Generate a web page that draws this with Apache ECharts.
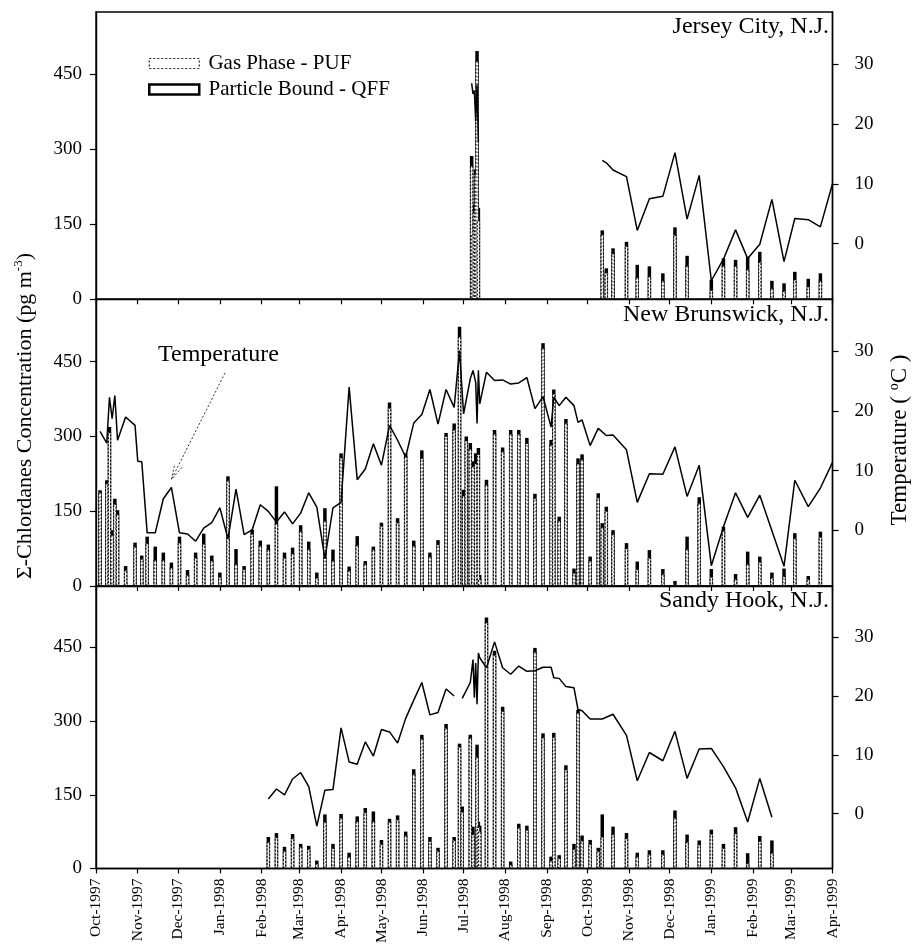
<!DOCTYPE html>
<html><head><meta charset="utf-8">
<script src="https://cdn.jsdelivr.net/npm/echarts@6/dist/echarts.min.js"></script>
<style>html,body{margin:0;padding:0;background:#fff}#c{width:915px;height:946px}</style>
</head><body><div id="c"></div><script>
// ---------- tick labels ----------
const monthTicks = ['1997-10-01','1997-11-01','1997-12-01','1998-01-01','1998-02-01','1998-03-01','1998-04-01','1998-05-01','1998-06-01','1998-07-01','1998-08-01','1998-09-01','1998-10-01','1998-11-01','1998-12-01','1999-01-01','1999-02-01','1999-03-01','1999-04-01'];
const monthNames = ['Jan','Feb','Mar','Apr','May','Jun','Jul','Aug','Sep','Oct','Nov','Dec'];
const concTicks = [0,150,300,450];
const tempTicks = [0,10,20,30];
const siteNames = ['Jersey City, N.J.','New Brunswick, N.J.','Sandy Hook, N.J.'];

// ---------- Jersey City ----------
const jcBarDates = ['1998-07-07','1998-07-08','1998-07-09','1998-07-10','1998-07-11','1998-07-12','1998-10-12','1998-10-15','1998-10-20','1998-10-30','1998-11-07','1998-11-16','1998-11-26','1998-12-05','1998-12-14','1999-01-01','1999-01-10','1999-01-19','1999-01-28','1999-02-06','1999-02-15','1999-02-24','1999-03-04','1999-03-14','1999-03-23'];
const jcGas  = [267,130,175,250,477,158,130,54,92,107,44,46,37,129,67,19,67,67,60,75,22,17,40,26,37];
const jcPart = [20,10,15,10,20,25,8,8,10,8,25,20,15,15,20,20,15,12,25,20,15,15,15,15,15];
const jcTempDates = ['1998-07-07','1998-07-08','1998-07-09','1998-07-10','1998-07-11','1998-07-12','1998-08-15','1998-10-12','1998-10-15','1998-10-20','1998-10-30','1998-11-07','1998-11-16','1998-11-26','1998-12-05','1998-12-14','1998-12-23','1999-01-01','1999-01-10','1999-01-19','1999-01-28','1999-02-06','1999-02-15','1999-02-24','1999-03-04','1999-03-14','1999-03-23','1999-04-01'];
const jcTemp = [26.8,25.0,25.6,20.5,26.6,17.0,null,13.9,13.5,12.3,11.2,2.2,7.5,7.9,15.2,4.1,11.4,-6.2,-2.6,2.3,-2.5,-0.1,7.4,-3.0,4.2,4.0,2.8,10.0];

// ---------- New Brunswick ----------
const nbBarDates = ['1997-10-04','1997-10-09','1997-10-11','1997-10-13','1997-10-15','1997-10-17','1997-10-23','1997-10-30','1997-11-04','1997-11-08','1997-11-14','1997-11-20','1997-11-26','1997-12-02','1997-12-08','1997-12-14','1997-12-20','1997-12-26','1998-01-01','1998-01-07','1998-01-13','1998-01-19','1998-01-25','1998-01-31','1998-02-06','1998-02-12','1998-02-18','1998-02-24','1998-03-02','1998-03-08','1998-03-14','1998-03-20','1998-03-26','1998-04-01','1998-04-07','1998-04-13','1998-04-19','1998-04-25','1998-05-01','1998-05-07','1998-05-13','1998-05-19','1998-05-25','1998-05-31','1998-06-06','1998-06-12','1998-06-18','1998-06-24','1998-06-28','1998-07-01','1998-07-03','1998-07-06','1998-07-08','1998-07-10','1998-07-12','1998-07-13','1998-07-18','1998-07-24','1998-07-30','1998-08-05','1998-08-11','1998-08-17','1998-08-23','1998-08-29','1998-09-04','1998-09-06','1998-09-10','1998-09-15','1998-09-21','1998-09-24','1998-09-27','1998-10-03','1998-10-09','1998-10-12','1998-10-15','1998-10-20','1998-10-30','1998-11-07','1998-11-16','1998-11-26','1998-12-05','1998-12-14','1998-12-23','1999-01-01','1999-01-10','1999-01-19','1999-01-28','1999-02-06','1999-02-15','1999-02-24','1999-03-04','1999-03-14','1999-03-23'];
const nbGas  = [188,206,309,102,165,144,32,79,55,86,52,52,37,87,22,57,85,51,19,212,44,34,105,81,73,125,57,65,110,74,17,131,51,258,31,82,44,73,121,358,128,260,81,257,59,84,301,314,500,181,292,275,240,246,265,14,203,305,270,305,305,287,177,477,283,386,131,327,27,246,254,51,178,118,151,104,76,34,57,24,5,74,166,19,111,14,44,49,17,20,96,14,99];
const nbPart = [4,6,10,10,10,8,8,8,6,13,27,15,10,12,10,10,20,10,8,8,30,6,8,10,10,75,10,12,12,15,10,25,22,8,8,18,6,6,6,10,8,6,10,15,8,8,6,12,20,12,8,12,10,20,12,8,10,8,8,8,8,10,8,10,10,8,8,8,8,10,10,8,8,8,8,8,10,15,15,10,5,25,12,15,8,10,25,10,10,15,10,6,10];
const nbTempDates = ['1997-10-04','1997-10-09','1997-10-11','1997-10-13','1997-10-15','1997-10-17','1997-10-23','1997-10-30','1997-11-01','1997-11-04','1997-11-08','1997-11-14','1997-11-20','1997-11-26','1997-12-02','1997-12-08','1997-12-14','1997-12-20','1997-12-26','1998-01-01','1998-01-07','1998-01-13','1998-01-19','1998-01-25','1998-01-31','1998-02-06','1998-02-12','1998-02-18','1998-02-24','1998-03-02','1998-03-08','1998-03-14','1998-03-20','1998-03-26','1998-04-01','1998-04-07','1998-04-13','1998-04-19','1998-04-25','1998-05-01','1998-05-07','1998-05-13','1998-05-19','1998-05-25','1998-05-31','1998-06-06','1998-06-12','1998-06-18','1998-06-24','1998-06-28','1998-07-01','1998-07-06','1998-07-08','1998-07-10','1998-07-11','1998-07-12','1998-07-13','1998-07-18','1998-07-24','1998-07-30','1998-08-05','1998-08-11','1998-08-17','1998-08-23','1998-08-29','1998-09-04','1998-09-06','1998-09-10','1998-09-15','1998-09-21','1998-09-24','1998-09-27','1998-10-03','1998-10-09','1998-10-15','1998-10-20','1998-10-30','1998-11-07','1998-11-16','1998-11-26','1998-12-05','1998-12-14','1998-12-23','1999-01-01','1999-01-10','1999-01-19','1999-01-28','1999-02-06','1999-02-24','1999-03-04','1999-03-14','1999-03-23','1999-04-01'];
const nbTemp = [16.6,14.6,22.3,18.7,22.6,15.1,19.0,17.6,11.6,11.5,-0.4,-0.4,5.3,7.2,-0.4,-0.6,-1.8,0.4,1.3,3.8,-1.4,6.9,-0.7,0.1,4.3,3.2,1.4,3.1,1.1,2.9,6.3,3.9,-4.7,3.8,4.7,24.0,8.5,10.3,14.5,10.9,17.6,15.1,12.3,18.0,19.4,23.6,17.8,23.6,20.6,30.1,19.5,25.4,26.8,24.8,17.9,26.8,21.2,26.5,25.1,25.2,24.5,24.7,25.6,20.4,22.4,17.3,22.3,20.9,22.3,20.9,18.1,18.5,14.2,17.1,15.9,16.0,13.5,4.7,9.5,9.4,14.0,5.7,10.9,-5.9,0.6,6.3,2.2,5.9,-6.0,8.4,4.0,7.1,11.4];

// ---------- Sandy Hook ----------
const shBarDates = ['1998-02-06','1998-02-12','1998-02-18','1998-02-24','1998-03-02','1998-03-08','1998-03-14','1998-03-20','1998-03-26','1998-04-01','1998-04-07','1998-04-13','1998-04-19','1998-04-25','1998-05-01','1998-05-07','1998-05-13','1998-05-19','1998-05-25','1998-05-31','1998-06-06','1998-06-12','1998-06-18','1998-06-24','1998-06-28','1998-06-30','1998-07-06','1998-07-08','1998-07-11','1998-07-12','1998-07-13','1998-07-18','1998-07-24','1998-07-30','1998-08-05','1998-08-11','1998-08-17','1998-08-23','1998-08-29','1998-09-04','1998-09-06','1998-09-10','1998-09-15','1998-09-21','1998-09-24','1998-09-27','1998-10-03','1998-10-09','1998-10-12','1998-10-20','1998-10-30','1998-11-07','1998-11-16','1998-11-26','1998-12-05','1998-12-14','1998-12-23','1999-01-01','1999-01-10','1999-01-19','1999-01-28','1999-02-06','1999-02-15'];
const shGas  = [54,64,36,62,44,40,10,95,42,103,24,96,115,96,50,95,100,67,192,264,56,36,286,58,248,116,266,70,227,85,75,501,435,321,8,83,79,441,267,16,268,21,202,40,317,57,50,36,65,70,62,24,29,29,103,54,49,71,42,72,11,56,32];
const shPart = [10,8,8,8,6,6,6,15,8,8,8,10,8,20,8,6,8,8,10,8,8,6,8,6,6,10,6,15,25,10,12,10,8,8,6,8,8,8,8,8,8,6,8,10,6,10,8,6,45,15,10,8,8,8,15,15,8,8,8,12,20,10,25];
const shTempDates = ['1998-02-06','1998-02-12','1998-02-18','1998-02-24','1998-03-02','1998-03-08','1998-03-14','1998-03-20','1998-03-26','1998-04-01','1998-04-07','1998-04-13','1998-04-19','1998-04-25','1998-05-01','1998-05-07','1998-05-13','1998-05-19','1998-05-25','1998-05-31','1998-06-06','1998-06-12','1998-06-18','1998-06-24','1998-06-27','1998-06-30','1998-07-06','1998-07-08','1998-07-09','1998-07-10','1998-07-11','1998-07-12','1998-07-13','1998-07-18','1998-07-24','1998-07-30','1998-08-05','1998-08-11','1998-08-17','1998-08-23','1998-08-29','1998-09-04','1998-09-06','1998-09-10','1998-09-15','1998-09-21','1998-09-24','1998-09-27','1998-10-03','1998-10-12','1998-10-20','1998-10-30','1998-11-07','1998-11-16','1998-11-26','1998-12-05','1998-12-14','1998-12-23','1999-01-01','1999-01-10','1999-01-19','1999-01-28','1999-02-06','1999-02-15'];
const shTemp = [2.5,4.2,3.2,5.9,7.0,4.6,-2.1,4.0,4.1,14.6,8.8,8.4,12.2,9.8,14.3,13.9,12.0,16.2,19.3,22.3,16.8,17.2,21.2,20.0,null,19.6,22.3,26.2,19.7,25.6,18.6,27.3,26.5,24.8,29.2,24.8,23.7,25.1,24.2,24.3,24.9,24.9,23.1,23.0,21.6,21.4,17.7,17.5,16.1,16.1,16.9,13.3,5.6,10.4,9.0,14.0,6.0,11.0,11.1,8.0,4.4,-1.4,6.0,-0.6];

// ---------- build ----------
const FONT = 'Liberation Serif, Times New Roman, serif';
const toTs = s => { const p = s.split('-').map(Number); return Date.UTC(p[0], p[1]-1, p[2]); };
const pts = (d, v) => d.map((x, i) => [toTs(x), v[i]]);
const monthTs = monthTicks.map(toTs);
const xMin = monthTs[0], xMax = monthTs[monthTs.length-1];
const fmtMonth = v => { const d = new Date(v); return monthNames[d.getUTCMonth()] + '-' + d.getUTCFullYear(); };

const sites = [
  {bd: jcBarDates, gas: jcGas, part: jcPart, td: jcTempDates, t: jcTemp},
  {bd: nbBarDates, gas: nbGas, part: nbPart, td: nbTempDates, t: nbTemp},
  {bd: shBarDates, gas: shGas, part: shPart, td: shTempDates, t: shTemp}
];
const gridTops = [12, 299.3, 586];
const gridHeights = [287.3, 286.7, 285.7];

const grid = [], xAxis = [], yAxis = [], series = [];
sites.forEach((s, i) => {
  grid.push({left: 96, width: 736.5, top: gridTops[i], height: gridHeights[i], show: true, borderColor: '#000', borderWidth: 1.4, containLabel: false});
  xAxis.push({
    type: 'value', gridIndex: i, min: xMin, max: xMax, scale: true,
    axisLine: {show: true, onZero: false, lineStyle: {color: '#000', width: 1.4}},
    axisTick: {show: true, customValues: monthTs, length: 5, lineStyle: {color: '#000', width: 1.2}},
    axisLabel: {show: i === 2, customValues: monthTs, rotate: 90, margin: 10, color: '#000', fontFamily: FONT, fontSize: 15.5,
      formatter: fmtMonth},
    splitLine: {show: false}
  });
  yAxis.push({
    type: 'value', gridIndex: i, min: 0, max: 575, position: 'left',
    axisLine: {show: true, lineStyle: {color: '#000', width: 1.4}},
    axisTick: {show: true, customValues: concTicks, length: 6, lineStyle: {color: '#000', width: 1.2}},
    axisLabel: {customValues: concTicks, margin: 14, color: '#000', fontFamily: FONT, fontSize: 19},
    splitLine: {show: false}
  });
  yAxis.push({
    type: 'value', gridIndex: i, min: -9.3, max: 38.7, position: 'right',
    axisLine: {show: true, lineStyle: {color: '#000', width: 1.4}},
    axisTick: {show: true, customValues: tempTicks, length: 6, lineStyle: {color: '#000', width: 1.2}},
    axisLabel: {customValues: tempTicks, margin: 22, color: '#000', fontFamily: FONT, fontSize: 19},
    splitLine: {show: false}
  });
  // particle-bound bar drawn as the full sample total (gas + particle); gas bar overlays its lower part
  const totals = s.gas.map((g, k) => g + s.part[k]);
  series.push({
    type: 'bar', name: 'Particle Bound - QFF', xAxisIndex: i, yAxisIndex: 2*i, barWidth: 3.5, barGap: '-100%', z: 2,
    data: pts(s.bd, totals),
    itemStyle: {color: '#000'},
    emphasis: {disabled: true}
  });
  series.push({
    type: 'bar', name: 'Gas Phase - PUF', xAxisIndex: i, yAxisIndex: 2*i, barWidth: 3.5, barGap: '-100%', z: 3,
    data: pts(s.bd, s.gas),
    itemStyle: {color: '#fff', borderColor: '#111', borderWidth: 1.2, borderType: [2, 1.6]},
    emphasis: {disabled: true}
  });
  series.push({
    type: 'line', name: 'Temperature ' + i, xAxisIndex: i, yAxisIndex: 2*i + 1, z: 5,
    data: pts(s.td, s.t), symbol: 'none', showSymbol: false, connectNulls: false,
    lineStyle: {color: '#000', width: 1.5}, emphasis: {disabled: true}
  });
});

const chart = echarts.init(document.getElementById('c'), null, {renderer: 'canvas'});
chart.setOption({
  animation: false,
  backgroundColor: '#fff',
  grid, xAxis, yAxis, series,
  legend: {
    left: 143, top: 48, orient: 'vertical', itemWidth: 50, itemHeight: 10, itemGap: 5, selectedMode: false,
    textStyle: {fontFamily: FONT, fontSize: 21, color: '#000'},
    formatter: n => '\u2009' + n,
    data: [
      {name: 'Gas Phase - PUF', icon: 'rect', itemStyle: {color: '#fff', borderColor: '#222', borderWidth: 1.2, borderType: [2, 2]}},
      {name: 'Particle Bound - QFF', icon: 'rect', itemStyle: {color: '#fff', borderColor: '#000', borderWidth: 2.5}}
    ]
  }
});

// annotations
const tip = chart.convertToPixel({seriesIndex: 5}, [toTs('1997-11-26'), 7.2]);
const start = [225, 373];
const tipPt = [tip[0], tip[1] - 8];
const ang = Math.atan2(tipPt[1] - start[1], tipPt[0] - start[0]);
const head = (da) => [tipPt[0] - 16 * Math.cos(ang + da), tipPt[1] - 16 * Math.sin(ang + da)];
const titleStyle = {fontFamily: FONT, fontSize: 24, fill: '#000'};
chart.setOption({
  graphic: [
    {type: 'text', x: 829, y: 27, style: Object.assign({text: siteNames[0], align: 'right', verticalAlign: 'middle'}, titleStyle)},
    {type: 'text', x: 829, y: 315, style: Object.assign({text: siteNames[1], align: 'right', verticalAlign: 'middle'}, titleStyle)},
    {type: 'text', x: 829, y: 601, style: Object.assign({text: siteNames[2], align: 'right', verticalAlign: 'middle'}, titleStyle)},
    {type: 'text', x: 158, y: 355, style: Object.assign({text: 'Temperature', align: 'left', verticalAlign: 'middle'}, titleStyle)},
    {type: 'polyline', shape: {points: [start, tipPt]}, style: {stroke: '#333', lineWidth: 1, lineDash: [2, 2], fill: null}},
    {type: 'polyline', shape: {points: [head(0.25), tipPt, head(-0.25)]}, style: {stroke: '#333', lineWidth: 1, lineDash: [2, 2], fill: null}},
    {type: 'text', x: 25, y: 416, rotation: Math.PI / 2,
      style: {text: '{a|Σ-Chlordanes Concentration (pg m}{s|-3}{a|)}', align: 'center', verticalAlign: 'middle',
        rich: {a: {fontFamily: FONT, fontSize: 22, fill: '#000', lineHeight: 26}, s: {fontFamily: FONT, fontSize: 13, fill: '#000', verticalAlign: 'top', lineHeight: 26}}}},
    {type: 'text', x: 900, y: 440, rotation: Math.PI / 2,
      style: {text: '{a|Temperature ( }{s|o}{a|C )}', align: 'center', verticalAlign: 'middle',
        rich: {a: {fontFamily: FONT, fontSize: 23, fill: '#000', lineHeight: 26}, s: {fontFamily: FONT, fontSize: 14, fill: '#000', verticalAlign: 'top', lineHeight: 26}}}}
  ]
});
</script></body></html>
